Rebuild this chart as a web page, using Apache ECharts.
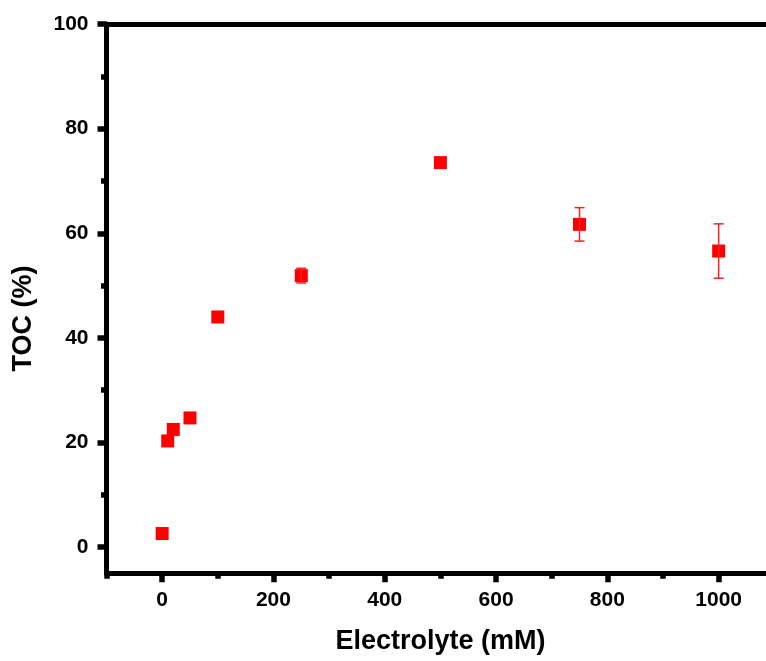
<!DOCTYPE html>
<html>
<head>
<meta charset="utf-8">
<script src="https://cdn.jsdelivr.net/npm/echarts@6/dist/echarts.min.js"></script>
<style>html,body{margin:0;padding:0;background:#fff;}#chart{width:766px;height:661px;}</style>
</head>
<body>
<div id="chart"></div>
<script>
// Data
var electrolyte = [0, 10, 20, 50, 100, 250, 500, 750, 1000];
var toc = [2.6, 20.3, 22.5, 24.7, 44.0, 51.9, 73.5, 61.7, 56.6];
var tocErr = [0, 0, 0, 0, 0, 1.4, 0, 3.2, 5.2];
var xMajorTicks = [0, 200, 400, 600, 800, 1000];
var xMinorTicks = [-100, 100, 300, 500, 700, 900, 1100];
var yMajorTicks = [0, 20, 40, 60, 80, 100];
var yMinorTicks = [10, 30, 50, 70, 90];

var FONT = '"Liberation Sans", Arial, sans-serif';
var points = electrolyte.map(function (x, i) { return [x, toc[i]]; });
var bars = electrolyte.map(function (x, i) { return [x, toc[i] - tocErr[i], toc[i] + tocErr[i]]; });

var gridBox = { left: 106.5, top: 24, width: 667.8, height: 549.3, containLabel: false, outerBoundsMode: 'none' };
var plain = function (v) { return String(v); };

var chart = echarts.init(document.getElementById('chart'), null, { renderer: 'canvas' });
chart.setOption({
  animation: false,
  backgroundColor: '#fff',
  grid: [Object.assign({}, gridBox), Object.assign({}, gridBox)],
  xAxis: [
    {
      type: 'value', gridIndex: 0, position: 'bottom', min: -100, max: 1100, interval: 100,
      axisLine: { show: true, onZero: false, lineStyle: { color: '#000', width: 5 } },
      axisTick: { show: true, inside: false, length: 9, lineStyle: { color: '#000', width: 5.5 }, customValues: xMajorTicks },
      axisLabel: { show: true, margin: 16, color: '#000', fontSize: 21, fontWeight: 'bold', fontFamily: FONT, customValues: xMajorTicks, formatter: plain },
      splitLine: { show: false },
      name: 'Electrolyte (mM)', nameLocation: 'middle', nameGap: 55,
      nameTextStyle: { color: '#000', fontSize: 27, fontWeight: 'bold', fontFamily: FONT }
    },
    {
      type: 'value', gridIndex: 0, position: 'top', min: -100, max: 1100, interval: 100,
      axisLine: { show: true, onZero: false, lineStyle: { color: '#000', width: 5 } },
      axisTick: { show: false }, axisLabel: { show: false }, splitLine: { show: false }
    },
    {
      type: 'value', gridIndex: 1, position: 'bottom', min: -100, max: 1100, interval: 100,
      axisLine: { show: false, onZero: false },
      axisTick: { show: true, inside: false, length: 5.5, lineStyle: { color: '#000', width: 5.5 }, customValues: xMinorTicks },
      axisLabel: { show: false }, splitLine: { show: false }
    }
  ],
  yAxis: [
    {
      type: 'value', gridIndex: 0, position: 'left', min: -5, max: 100, interval: 5,
      axisLine: { show: true, onZero: false, lineStyle: { color: '#000', width: 5 } },
      axisTick: { show: true, inside: false, length: 9, lineStyle: { color: '#000', width: 5.5 }, customValues: yMajorTicks },
      axisLabel: { show: true, margin: 18, color: '#000', fontSize: 21, fontWeight: 'bold', fontFamily: FONT, customValues: yMajorTicks, formatter: plain },
      splitLine: { show: false }
    },
    {
      type: 'value', gridIndex: 1, position: 'left', min: -5, max: 100, interval: 5,
      axisLine: { show: false, onZero: false },
      axisTick: { show: true, inside: false, length: 5.5, lineStyle: { color: '#000', width: 5.5 }, customValues: yMinorTicks },
      axisLabel: { show: false }, splitLine: { show: false }
    }
  ],
  graphic: [{
    type: 'text', x: 23.5, y: 318.5, rotation: Math.PI / 2,
    style: { text: 'TOC (%)', fill: '#000', font: 'bold 27px ' + FONT, align: 'center', verticalAlign: 'middle' }
  }],
  series: [
    {
      type: 'scatter', xAxisIndex: 0, yAxisIndex: 0, data: points,
      symbol: 'rect', symbolSize: 13, itemStyle: { color: '#ff0000', opacity: 1 }, z: 2
    },
    {
      type: 'custom', xAxisIndex: 0, yAxisIndex: 0, data: bars, z: 3,
      renderItem: function (params, api) {
        var x = api.value(0), lo = api.value(1), hi = api.value(2);
        if (!(hi > lo)) return { type: 'group', children: [] };
        var p1 = api.coord([x, hi]), p2 = api.coord([x, lo]);
        var hw = 5;
        var st = { stroke: '#ff2020', lineWidth: 1.5 };
        return {
          type: 'group', children: [
            { type: 'line', shape: { x1: p1[0], y1: p1[1], x2: p2[0], y2: p2[1] }, style: st },
            { type: 'line', shape: { x1: p1[0] - hw, y1: p1[1], x2: p1[0] + hw, y2: p1[1] }, style: st },
            { type: 'line', shape: { x1: p2[0] - hw, y1: p2[1], x2: p2[0] + hw, y2: p2[1] }, style: st }
          ]
        };
      }
    }
  ]
});
</script>
</body>
</html>
